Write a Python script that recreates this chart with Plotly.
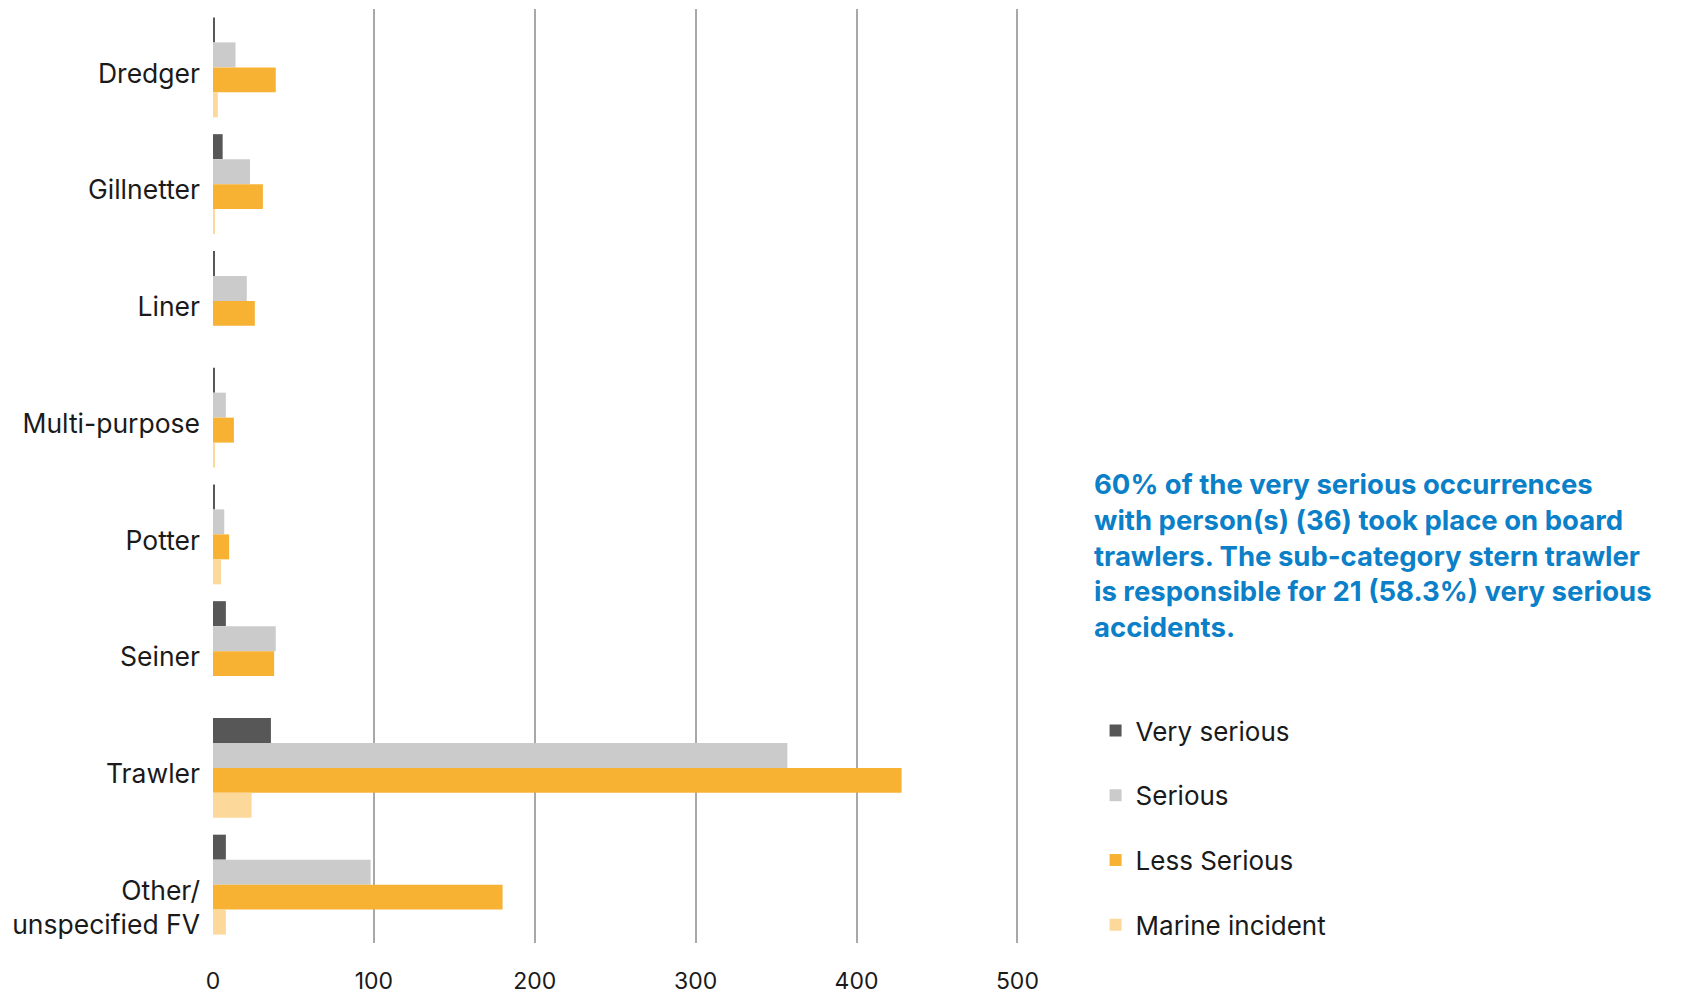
import plotly.graph_objects as go

categories = ["Dredger", "Gillnetter", "Liner", "Multi-purpose", "Potter", "Seiner",
              "Trawler", "Other/unspecified FV"]
category_labels = ["Dredger", "Gillnetter", "Liner", "Multi-purpose", "Potter", "Seiner",
                   "Trawler", "<br>Other/<br>unspecified FV"]
very_serious = [1, 6, 1, 1, 1, 8, 36, 8]
serious = [14, 23, 21, 8, 7, 39, 357, 98]
less_serious = [39, 31, 26, 13, 10, 38, 428, 180]
marine_incident = [3, 1, 0, 1, 5, 0, 24, 8]

series = [
    ("Very serious", very_serious, "#575757"),
    ("Serious", serious, "#cbcbcb"),
    ("Less Serious", less_serious, "#f7b233"),
    ("Marine incident", marine_incident, "#fcd99a"),
]
x_ticks = [0, 100, 200, 300, 400, 500]

note = ("60% of the very serious occurrences<br>with person(s) (36) took place on board<br>"
        "trawlers. The sub-category stern trawler<br>is responsible for 21 (58.3%) very serious<br>"
        "accidents.")

fig = go.Figure()
for i, (name, vals, color) in enumerate(series):
    fig.add_trace(go.Bar(
        y=categories, x=vals, name=name, orientation="h",
        marker=dict(color=color, line=dict(width=0)),
        legendgroup=str(i),
    ))

fig.update_layout(
    template="none",
    width=1683, height=986,
    margin=dict(l=205, r=672, t=1, b=51, autoexpand=False),
    barmode="group", bargap=0.144, bargroupgap=0,
    plot_bgcolor="white", paper_bgcolor="white",
    font=dict(family="Inter", size=26, color="#1a1a1a"),
    xaxis=dict(range=[0, 501], tickvals=x_ticks, showgrid=True, gridcolor="#a8a8a8",
               gridwidth=2, zeroline=False, showline=False, ticks="", automargin=False,
               ticklabelstandoff=22, tickfont=dict(size=23, color="#1a1a1a")),
    yaxis=dict(autorange="reversed", showgrid=False, zeroline=False, showline=False,
               tickvals=categories, ticktext=category_labels,
               ticks="", automargin=False, ticklabelstandoff=12, ticklabelshift=-6,
               tickfont=dict(size=26.5, color="#1a1a1a")),
    legend=dict(x=1.095, xref="paper", y=0.2526, yref="paper", yanchor="top",
                tracegroupgap=28, font=dict(size=26, color="#1a1a1a"),
                traceorder="grouped", bgcolor="rgba(0,0,0,0)"),
    annotations=[dict(
        x=1.091, xref="paper", xanchor="left", y=0.512, yref="paper", yanchor="top",
        text=note, showarrow=False, align="left",
        font=dict(family="Inter", size=27.5, color="#0b7fc7", weight=700),
    )],
)

fig.write_html("out.html")
